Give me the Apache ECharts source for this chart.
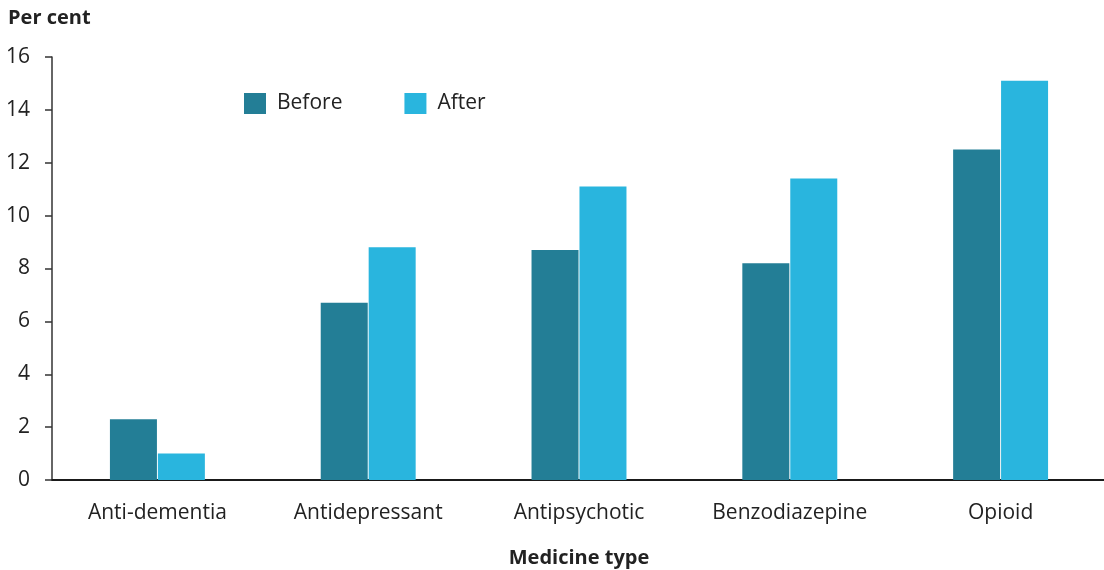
<!DOCTYPE html>
<html><head><meta charset="utf-8">
<script src="https://cdn.jsdelivr.net/npm/echarts@6/dist/echarts.min.js"></script>
<style>html,body{margin:0;padding:0;background:#fff}#c{width:1104px;height:570px}</style>
</head><body><div id="c"></div>
<script>
const categories = ['Anti-dementia','Antidepressant','Antipsychotic','Benzodiazepine','Opioid'];
const beforeValues = [2.3, 6.7, 8.7, 8.2, 12.5];
const afterValues = [1.0, 8.8, 11.1, 11.4, 15.1];
const seriesNames = ['Before','After'];

const FONT = '"Open Sans", "Noto Sans", sans-serif';
const chart = echarts.init(document.getElementById('c'), null, {renderer:'canvas'});
chart.setOption({
  animation:false,
  textStyle:{fontFamily:FONT},
  grid:{left:52, right:-2, top:57, bottom:90, containLabel:false, outerBoundsMode:'none'},
  legend:{
    left:239, top:88, itemWidth:22, itemHeight:21, itemGap:62,
    icon:'rect',
    textStyle:{fontFamily:FONT, fontSize:21, color:'#222', padding:[0,0,0,6]},
    data:seriesNames
  },
  graphic:[
    {type:'text', left:8, top:8, style:{text:'Per cent', font:'bold 20px '+FONT, fill:'#222'}},
  ],
  xAxis:{
    type:'category', data:categories,
    name:'Medicine type', nameLocation:'middle', nameGap:68,
    nameTextStyle:{fontFamily:FONT, fontSize:20, fontWeight:'bold', color:'#222'},
    axisLine:{lineStyle:{color:'#1a1a1a', width:2}},
    axisTick:{show:false},
    axisLabel:{fontFamily:FONT, fontSize:21, color:'#222', margin:23, interval:0}
  },
  yAxis:{
    type:'value', min:0, max:16, interval:2,
    axisLine:{show:true, lineStyle:{color:'#333', width:1.5}},
    axisTick:{show:true, length:7, lineStyle:{color:'#333', width:1.5}},
    splitLine:{show:false},
    axisLabel:{fontFamily:FONT, fontSize:21, color:'#222', margin:22}
  },
  series:[
    {name:seriesNames[0], type:'bar', data:beforeValues, barWidth:47, barGap:'2%',
     itemStyle:{color:'#237e96'}},
    {name:seriesNames[1], type:'bar', data:afterValues, barWidth:47, barGap:'2%',
     itemStyle:{color:'#29b5de'}}
  ]
});
</script></body></html>
